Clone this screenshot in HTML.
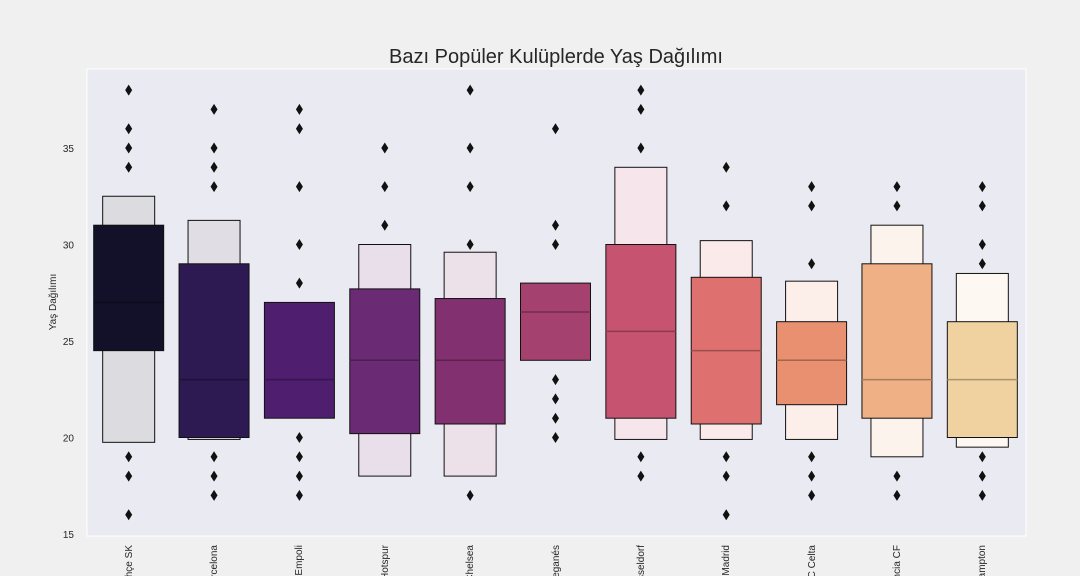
<!DOCTYPE html>
<html><head><meta charset="utf-8"><style>
html,body{margin:0;background:#f0f0f0;width:1080px;height:576px;overflow:hidden;font-family:"Liberation Sans","DejaVu Sans",sans-serif}
svg{display:block;overflow:hidden}
#labels{position:absolute;left:0;top:538px;width:1080px;height:38px;overflow:hidden}
.xl{position:absolute;top:7px;font-size:10px;color:#262626;white-space:nowrap;transform-origin:0 0;transform:rotate(-90deg) translateX(-100%);line-height:11px}
</style></head><body>
<svg id="chart" width="1080" height="576" viewBox="0 0 1080 576" xmlns="http://www.w3.org/2000/svg"></svg>
<div id="labels"></div>
<script>
const categories=["Fenerbahçe SK","FC Barcelona","Empoli","Tottenham Hotspur","Chelsea","CD Leganés","Fortuna Düsseldorf","Real Madrid","RC Celta","Valencia CF","Southampton"];
const q1=[24.5,20,21,20.2,20.7,24,21,20.7,21.7,21,20];
const q3=[31,29,27,27.7,27.2,28,30,28.3,26,29,26];
const medians=[27,23,23,24,24,26.5,25.5,24.5,24,23,23];
const outerLow=[19.75,19.9,null,18,18,null,19.9,19.9,19.9,19,19.5];
const outerHigh=[32.5,31.25,null,30,29.6,null,34,30.2,28.1,31,28.5];
const outliers=[[38,36,35,34,19,18,16],[37,35,34,33,19,18,17],[37,36,33,30,28,20,19,18,17],[35,33,31],[38,35,33,30,17],[36,31,30,23,22,21,20],[38,37,35,19,18],[34,32,19,18,16],[33,32,29,19,18,17],[33,32,18,17],[33,32,30,29,19,18,17]];
const colors=["#131129","#2d1a52","#4f1e6e","#6a2b74","#82306f","#a4416f","#c65471","#de7070","#e8906f","#eeb084","#f0d2a0"];
const yTicks=[15,20,25,30,35];

const NS="http://www.w3.org/2000/svg";
const svg=document.getElementById('chart');
const labels=document.getElementById('labels');
const L=87,R=1026,T=69,B=536;
const yMin=15-2/19.3, yMax=15+(534-T)/19.3;
const y=v=>B-(v-yMin)/(yMax-yMin)*(B-T);
const band=(R-L)/categories.length;
const xc=i=>L+band*(i+0.5)-1;
function mk(tag,attrs,parent){const e=document.createElementNS(NS,tag);for(const k in attrs)e.setAttribute(k,attrs[k]);(parent||svg).appendChild(e);return e;}
function mix(hex,f){const n=parseInt(hex.slice(1),16);const c=[(n>>16)&255,(n>>8)&255,n&255].map(v=>Math.round(v*(1-f)+255*f));return `rgb(${c.join(',')})`;}
function dark(hex,f){const n=parseInt(hex.slice(1),16);const c=[(n>>16)&255,(n>>8)&255,n&255].map(v=>Math.round(v*f));return `rgb(${c.join(',')})`;}

const bg=mk('rect',{x:L,y:T,width:R-L,height:B-T,fill:'#eaeaf2',stroke:'#ffffff','stroke-width':1});



const title=mk('text',{x:556,y:63,'text-anchor':'middle','font-size':20,fill:'#262626'});
title.textContent='Bazı Popüler Kulüplerde Yaş Dağılımı';



const yl=mk('text',{transform:'translate(56,302) rotate(-90)','text-anchor':'middle','font-size':10,fill:'#262626'});
yl.textContent='Yaş Dağılımı';



yTicks.forEach(t=>{
  const tx=mk('text',{x:74,y:y(t)+4,'text-anchor':'end','font-size':10,fill:'#262626'});
  tx.textContent=t;
  
  
});

categories.forEach((c,i)=>{
  const cx=xc(i);
  const g=mk('g',{});
  
  
  if(outerLow[i]!==null){
    const w=52;
    const r=mk('rect',{x:cx-w/2,y:y(outerHigh[i]),width:w,height:y(outerLow[i])-y(outerHigh[i]),fill:mix(colors[i],0.85),stroke:'#111',"stroke-width":1},g);
    
    
  }
  const w=70;
  const b=mk('rect',{x:cx-w/2,y:y(q3[i]),width:w,height:y(q1[i])-y(q3[i]),fill:colors[i],stroke:'#111',"stroke-width":1},g);
  
  
  const m=mk('line',{x1:cx-w/2,x2:cx+w/2,y1:y(medians[i]),y2:y(medians[i]),stroke:dark(colors[i],0.7),"stroke-width":1.5},g);
  
  
  outliers[i].forEach(v=>{
    const yy=y(v);
    const p=mk('path',{d:`M${cx} ${yy-5.5}L${cx+3.5} ${yy}L${cx} ${yy+5.5}L${cx-3.5} ${yy}Z`,fill:'#111'},g);
    
    
  });
  const lb=document.createElement('div');
  lb.className='xl';
  lb.style.left=(cx-5)+'px';
  lb.textContent=c;
  
  
  labels.appendChild(lb);
});
</script>
</body></html>
